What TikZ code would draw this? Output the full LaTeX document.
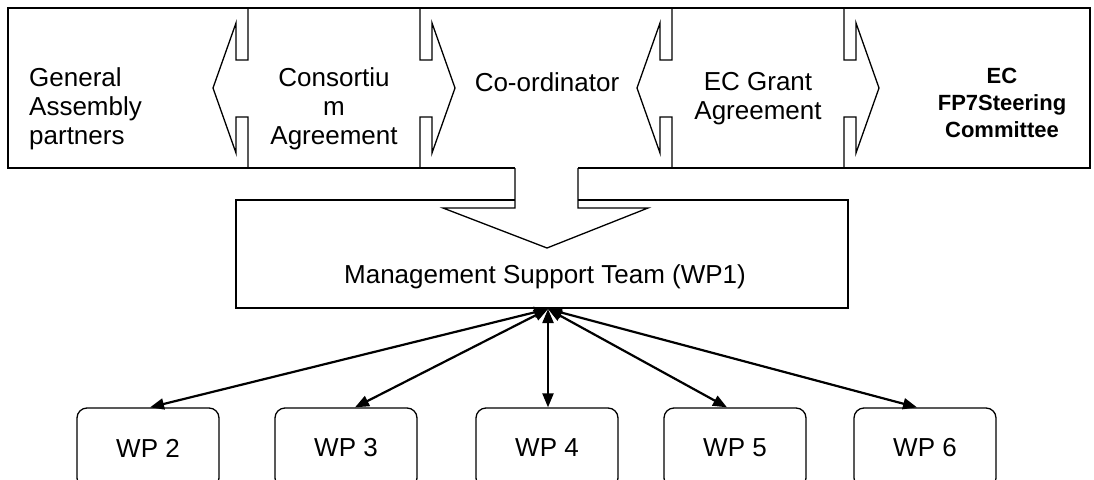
\documentclass[tikz,border=0pt]{standalone}
\usepackage{fontspec}
\setmainfont{Liberation Sans}
\usetikzlibrary{arrows.meta,positioning,calc}

\begin{document}
\begin{tikzpicture}[
    x=1pt, y=-1pt,
    font=\fontsize{26}{29}\selectfont,
    >={Triangle[length=14pt,width=11pt]},
    % --- styles ---
    frame/.style   = {draw=black, line width=1.3pt, line join=miter},
    wpbox/.style   = {rectangle, draw=black, line width=1.3pt,
                      rounded corners=10pt, minimum width=142pt,
                      minimum height=80pt, inner sep=0pt},
    txt/.style     = {inner sep=0pt, anchor=base, align=center},
    boldtxt/.style = {txt, font=\fontsize{22}{27}\selectfont\bfseries},
    link/.style    = {<->, line width=2.2pt},
]
\useasboundingbox (0,0) rectangle (1094,479);
\clip (0,0) rectangle (1094,479);

%============ TOP ROW ============
\draw[frame] (515,168) -- (8,168) -- (8,8) -- (1090,8) -- (1090,168) -- (578,168);

% agreement callouts (arrow heads left/right)
\foreach \x/\d in {248/-1, 420/1, 672/-1, 844/1}
  \draw[frame] (\x,8) -- (\x,60) -- ({\x+12*\d},60) -- ({\x+12*\d},23)
    -- ({\x+35*\d},88) -- ({\x+12*\d},153) -- ({\x+12*\d},117)
    -- (\x,117) -- (\x,168);

% (base = last line of a multi-line node)
\node[txt, anchor=base west, align=left] (ga) at (29,144) {General\\Assembly\\partners};
\node[txt] (ca) at (334,144) {Consortiu\\m\\Agreement};
\node[txt] (coord) at (547,91) {Co-ordinator};
\node[txt] (ecga) at (758,119) {EC Grant\\Agreement};
\node[boldtxt] (ecsc) at (1002,137) {EC\\FP7Steering\\Committee};

%============ MANAGEMENT SUPPORT TEAM ============
\draw[frame] (515,200) -- (236,200) -- (236,308) -- (848,308) -- (848,200) -- (578,200);
\draw[frame] (515,168) -- (515,208) -- (443,208) -- (547,248) -- (648,208)
  -- (578,208) -- (578,168);
\node[txt] (mst) at (545,283) {Management Support Team (WP1)};
\coordinate (hub) at (548,309);

%============ WORK PACKAGES ============
\node[wpbox] (wp2) at (148,448) {WP 2};
\node[wpbox] (wp3) at (346,448) {WP 3};
\node[wpbox] (wp4) at (547,448) {WP 4};
\node[wpbox] (wp5) at (735,448) {WP 5};
\node[wpbox] (wp6) at (925,448) {WP 6};

\foreach \n/\s in {2/2, 3/9, 4/1, 5/-8, 6/-8}
  \draw[link] (hub) -- ([xshift=\s]wp\n.north);

\end{tikzpicture}
\end{document}
